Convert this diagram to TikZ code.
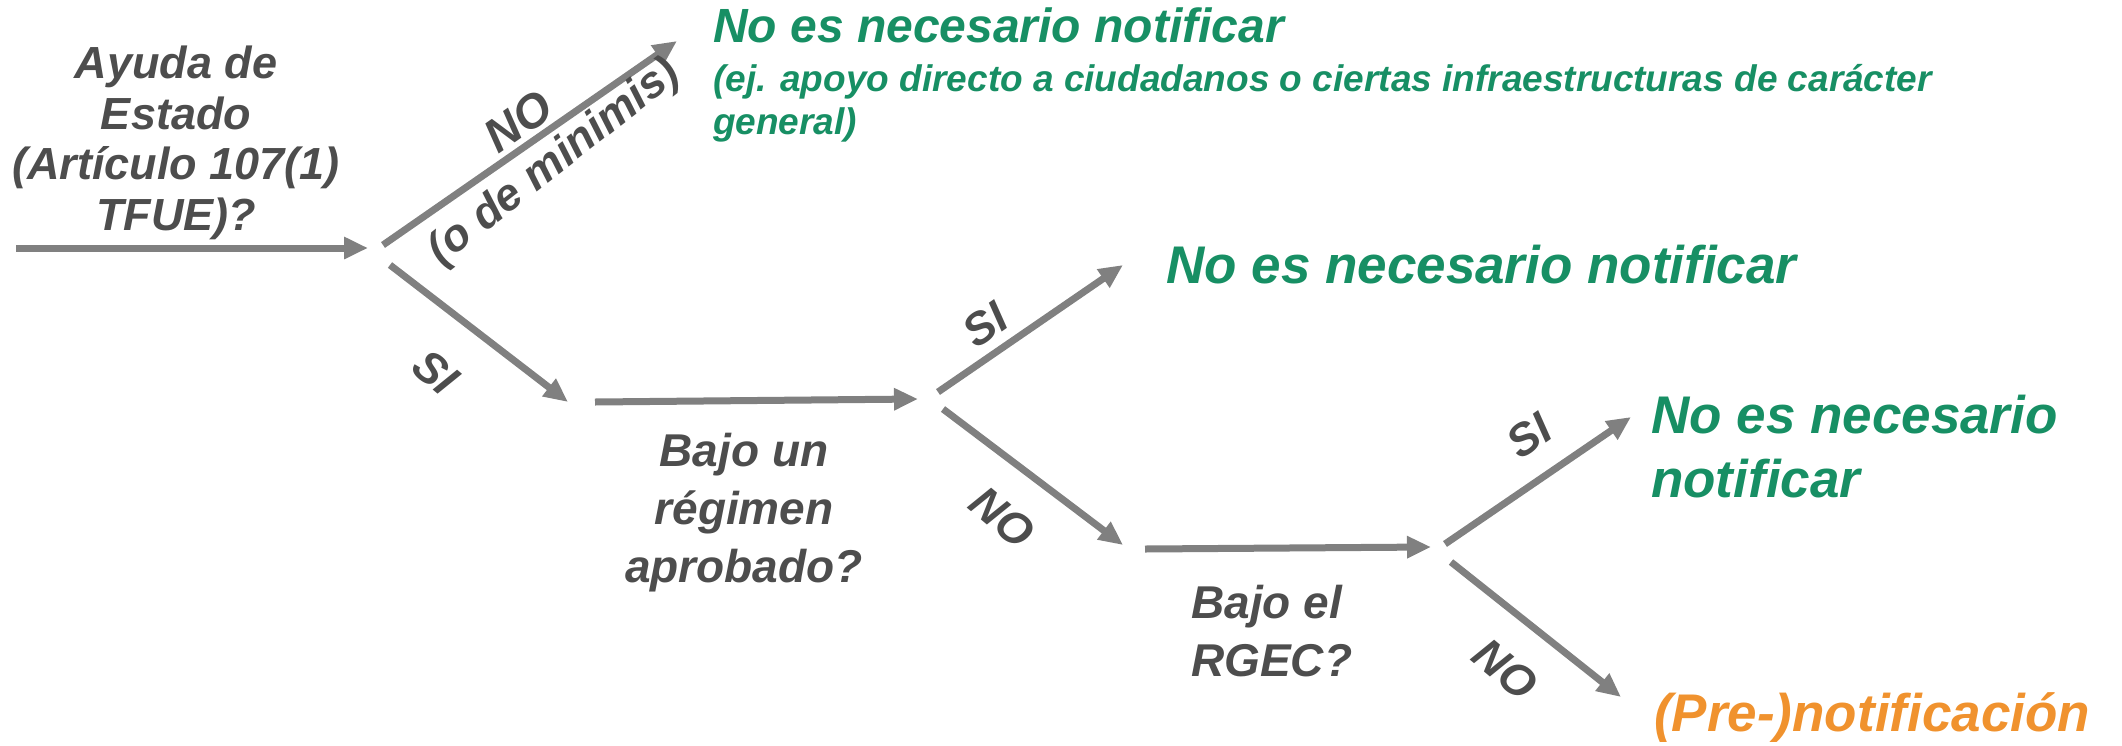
\documentclass[tikz,border=0pt]{standalone}
\usepackage{fontspec}
\setmainfont{Liberation Sans}
\usetikzlibrary{arrows.meta}
\definecolor{arrowgray}{RGB}{128,128,128}
\definecolor{txtgray}{RGB}{77,77,77}
\definecolor{okgreen}{RGB}{23,143,100}
\definecolor{preorange}{RGB}{240,146,46}
\begin{document}
\begin{tikzpicture}[x=1pt,y=-1pt,
  flow/.style={draw=arrowgray, line width=7pt, -{Triangle[length=24pt,width=21pt]}},
  question/.style={text=txtgray, font=\fontsize{46}{58}\selectfont\bfseries\itshape, inner sep=0pt},
  lbl/.style={text=txtgray, font=\fontsize{45}{50}\selectfont\bfseries\itshape, inner sep=0pt},
  result/.style={text=okgreen, font=\fontsize{53}{64}\selectfont\bfseries\itshape, inner sep=0pt, anchor=base west, align=left},
  note/.style={text=okgreen, font=\fontsize{37}{43}\selectfont\bfseries\itshape, inner sep=0pt, anchor=base west, align=left},
 ]
\useasboundingbox (0,0) rectangle (2122,745);

% arrow end points
\coordinate (a0s) at (16,248);   \coordinate (a0e) at (368,248);
\coordinate (n1s) at (383,245);  \coordinate (n1e) at (677,41);
\coordinate (s1s) at (390,265);  \coordinate (s1e) at (568,402);
\coordinate (h2s) at (595,402);  \coordinate (h2e) at (918,399);
\coordinate (s2s) at (938,392);  \coordinate (s2e) at (1123,265);
\coordinate (n2s) at (943,409);  \coordinate (n2e) at (1123,545);
\coordinate (h3s) at (1145,549); \coordinate (h3e) at (1431,547);
\coordinate (s3s) at (1445,544); \coordinate (s3e) at (1631,417);
\coordinate (n3s) at (1451,562); \coordinate (n3e) at (1621,697);

\draw[flow] (a0s) -- (a0e);
\draw[flow] (n1s) -- (n1e);
\draw[flow] (s1s) -- (s1e);
\draw[flow] (h2s) -- (h2e);
\draw[flow] (s2s) -- (s2e);
\draw[flow] (n2s) -- (n2e);
\draw[flow] (h3s) -- (h3e);
\draw[flow] (s3s) -- (s3e);
\draw[flow] (n3s) -- (n3e);

% questions
\node[question, align=center, font=\fontsize{45}{50.5}\selectfont\bfseries\itshape] (q1) at (176,143)
  {Ayuda de\\Estado\\(Artículo 107(1)\\TFUE)?};
\node[question, align=center] (q2) at (744,513) {Bajo un\\régimen\\aprobado?};
\node[question, align=left, anchor=west] (q3) at (1191,631) {Bajo el\\RGEC?};

% branch labels
\node[lbl, rotate=35, font=\fontsize{47}{50}\selectfont\bfseries\itshape] (l1) at (518,121) {NO};
\node[lbl, rotate=38] (l1b) at (555,163) {(o de minimis)};
\node[lbl, rotate=-40] (l2) at (436,372) {SI};
\node[lbl, rotate=35] (l3) at (985,325) {SI};
\node[lbl, rotate=-40] (l4) at (1002,517) {NO};
\node[lbl, rotate=35] (l5) at (1529,436) {SI};
\node[lbl, rotate=-40] (l6) at (1505,669) {NO};

% results
\node[result, font=\fontsize{48}{55}\selectfont\bfseries\itshape] (r1) at (713,42) {No es necesario notificar};
\node[note] (r1n) at (713,134) {(ej. apoyo directo a ciudadanos o ciertas infraestructuras de carácter\\general)};
\node[result] (r2) at (1166,283) {No es necesario notificar};
\node[result] (r3) at (1651,497) {No es necesario\\notificar};
\node[result, text=preorange] (r4) at (1654,731) {(Pre-)notificación};
\end{tikzpicture}
\end{document}
